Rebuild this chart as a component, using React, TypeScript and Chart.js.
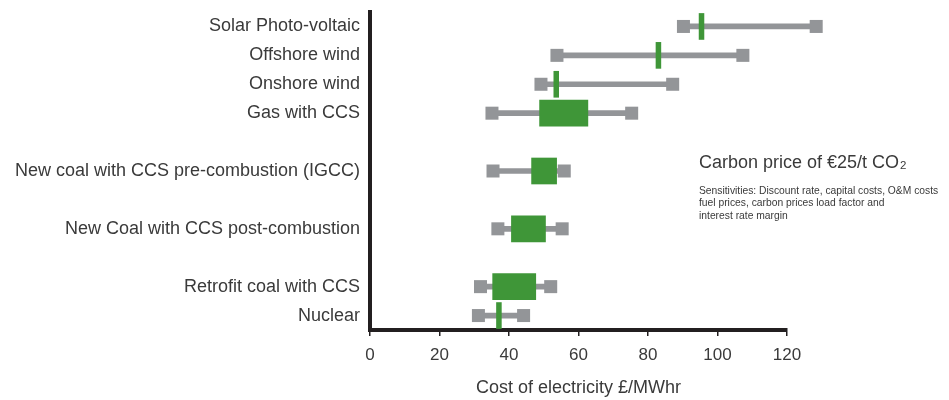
import React, { useEffect, useRef } from "react";
import { Chart, registerables } from "chart.js";

Chart.register(...registerables);

// Rows (blank entries are spacer rows in the original layout)
const categories: string[] = [
  "Solar Photo-voltaic",
  "Offshore wind",
  "Onshore wind",
  "Gas with CCS",
  "",
  "New coal with CCS pre-combustion (IGCC)",
  "",
  "New Coal with CCS post-combustion",
  "",
  "Retrofit coal with CCS",
  "Nuclear",
];

// Sensitivity range (min / max), £/MWhr
const rangeLow: (number | null)[] = [90.2, 53.8, 49.2, 35.1, null, 35.4, null, 36.8, null, 31.8, 31.2];
const rangeHigh: (number | null)[] = [128.4, 107.3, 87.1, 75.3, null, 55.9, null, 55.3, null, 52.0, 44.2];

// Central estimate band (low / high), £/MWhr
const centralLow: (number | null)[] = [94.7, 82.3, 52.9, 48.8, null, 46.5, null, 40.7, null, 35.3, 36.4];
const centralHigh: (number | null)[] = [96.1, 83.7, 54.3, 62.7, null, 53.7, null, 50.5, null, 47.7, 37.8];

const xMin = 0;
const xMax = 120;
const xStep = 20;

const xTitle = "Cost of electricity £/MWhr";
const noteTitle = "Carbon price of €25/t CO";
const noteSub = "2";
const noteLines: string[] = [
  "Sensitivities: Discount rate, capital costs, O&M costs",
  "fuel prices, carbon prices load factor and",
  "interest rate margin",
];

const GREEN = "#3f9638";
const GREY = "#939598";
const AXIS = "#231f20";
const TEXT = "#3a3a3a";
const FONT = "'Liberation Sans', Arial, sans-serif";

// Lets the end-point squares that lie beyond the axis maximum still be drawn
const widenAreaPlugin = {
  id: "widenArea",
  beforeDatasetDraw(chart: any, args: any) {
    if (args.meta.type !== "line") return;
    chart.$savedArea = chart.chartArea;
    const a = chart.chartArea;
    chart.chartArea = { ...a, left: 0, right: chart.width, top: 0, bottom: chart.height, width: chart.width, height: chart.height };
  },
  afterDatasetDraw(chart: any, args: any) {
    if (args.meta.type !== "line" || !chart.$savedArea) return;
    chart.chartArea = chart.$savedArea;
    chart.$savedArea = null;
  },
};

const notePlugin = {
  id: "note",
  afterDraw(chart: any) {
    const { ctx, chartArea } = chart;
    const x = chartArea.right - 88;
    const y = chartArea.top + 151;
    ctx.save();
    ctx.fillStyle = TEXT;
    ctx.textBaseline = "middle";
    ctx.textAlign = "left";
    ctx.font = `18px ${FONT}`;
    ctx.fillText(noteTitle, x, y);
    const w = ctx.measureText(noteTitle).width;
    ctx.font = `11.5px ${FONT}`;
    ctx.fillText(noteSub, x + w + 1, y + 3);
    ctx.font = `10.3px ${FONT}`;
    noteLines.forEach((line, i) => {
      ctx.fillText(line, x, y + 28 + i * 12.5);
    });
    ctx.restore();
  },
};

export default function App() {
  const ref = useRef<HTMLCanvasElement | null>(null);

  useEffect(() => {
    if (!ref.current) return;
    const pair = (a: (number | null)[], b: (number | null)[]) =>
      categories.map((_, i) => (a[i] == null || b[i] == null ? null : [a[i], b[i]]));

    const chart = new Chart(ref.current, {
      type: "bar",
      data: {
        labels: categories,
        datasets: [
          {
            type: "bar",
            label: "Central estimate",
            data: pair(centralLow, centralHigh) as any,
            backgroundColor: GREEN,
            barThickness: 26,
            grouped: false,
            indexAxis: "y",
            clip: false,
            order: 0,
          } as any,
          {
            type: "line",
            label: "Low",
            data: rangeLow as any,
            showLine: false,
            pointStyle: "rect",
            pointRadius: 9.2,
            pointBackgroundColor: GREY,
            pointBorderWidth: 0,
            borderColor: GREY,
            indexAxis: "y",
            clip: false,
            order: 1,
          } as any,
          {
            type: "line",
            label: "High",
            data: rangeHigh as any,
            showLine: false,
            pointStyle: "rect",
            pointRadius: 9.2,
            pointBackgroundColor: GREY,
            pointBorderWidth: 0,
            borderColor: GREY,
            indexAxis: "y",
            clip: false,
            order: 1,
          } as any,
          {
            type: "bar",
            label: "Range",
            data: pair(rangeLow, rangeHigh) as any,
            backgroundColor: GREY,
            barThickness: 5,
            grouped: false,
            indexAxis: "y",
            clip: false,
            order: 2,
          } as any,
        ],
      },
      options: {
        indexAxis: "y",
        responsive: false,
        animation: false,
        layout: { padding: { top: 12, right: 162, left: 0, bottom: 0 } },
        plugins: {
          legend: { display: false },
          tooltip: { enabled: false },
        },
        scales: {
          x: {
            type: "linear",
            min: xMin,
            max: xMax,
            afterFit: (s: any) => {
              s.height = 70;
            },
            ticks: {
              stepSize: xStep,
              color: TEXT,
              font: { family: FONT, size: 17 },
              padding: 9,
            },
            grid: {
              display: true,
              drawOnChartArea: false,
              drawTicks: true,
              tickLength: 6,
              color: AXIS,
              lineWidth: 1.5,
            },
            border: { display: true, color: AXIS, width: 4 },
            title: {
              display: true,
              text: xTitle,
              color: TEXT,
              font: { family: FONT, size: 18 },
              padding: { top: 0, bottom: 1 },
            },
          },
          y: {
            type: "category",
            afterFit: (s: any) => {
              s.width = 370;
              s.paddingTop = 0;
              s.paddingBottom = 0;
            },
            ticks: {
              color: TEXT,
              font: { family: FONT, size: 18 },
              padding: 10,
              autoSkip: false,
            },
            grid: { display: false, drawTicks: false, tickLength: 0 },
            border: { display: true, color: AXIS, width: 4 },
          },
        },
      },
      plugins: [widenAreaPlugin, notePlugin],
    } as any);

    return () => chart.destroy();
  }, []);

  return (
    <div style={{ position: "absolute", left: 0, top: 0, width: 949, height: 400, background: "#fff" }}>
      <canvas ref={ref} width={949} height={400} style={{ width: 949, height: 400 }} />
    </div>
  );
}
